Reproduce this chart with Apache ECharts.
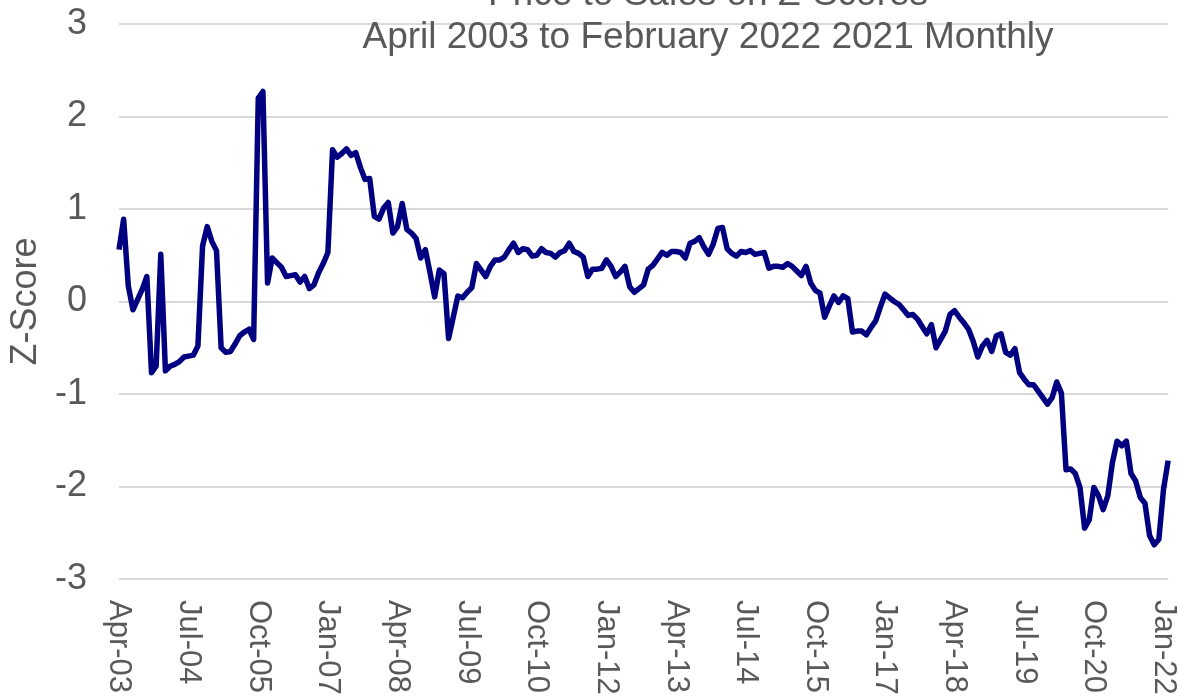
<!DOCTYPE html>
<html>
<head>
<meta charset="utf-8">
<script src="https://cdn.jsdelivr.net/npm/echarts@6/dist/echarts.min.js"></script>
<style>html,body{margin:0;padding:0;background:#fff;}#c{width:1179px;height:698px;}</style>
</head>
<body>
<div id="c"></div>
<script>
const titleText = "Price to Sales on Z-Scores";
const subtitleText = "April 2003 to February 2022 2021 Monthly";
const yAxisName = "Z-Score";
const monthNames = ["Jan","Feb","Mar","Apr","May","Jun","Jul","Aug","Sep","Oct","Nov","Dec"];
const startYear = 2003, startMonth = 3; // April 2003
const zScores = [
 0.56, 0.89, 0.17,-0.09, 0.02, 0.13, 0.27,-0.77,-0.70, 0.51,
-0.75,-0.70,-0.68,-0.65,-0.60,-0.59,-0.58,-0.48, 0.60, 0.81,
 0.65, 0.55,-0.50,-0.55,-0.54,-0.46,-0.37,-0.33,-0.30,-0.41,
 2.20, 2.27, 0.20, 0.47, 0.42, 0.37, 0.27, 0.28, 0.29, 0.21,
 0.27, 0.14, 0.18, 0.31, 0.41, 0.53, 1.64, 1.56, 1.60, 1.65,
 1.58, 1.61, 1.45, 1.32, 1.33, 0.92, 0.89, 1.01, 1.07, 0.74,
 0.81, 1.06, 0.78, 0.74, 0.68, 0.47, 0.56, 0.31, 0.05, 0.34,
 0.30,-0.40,-0.17, 0.06, 0.04, 0.10, 0.15, 0.41, 0.34, 0.27,
 0.38, 0.45, 0.45, 0.48, 0.56, 0.63, 0.53, 0.57, 0.56, 0.49,
 0.50, 0.57, 0.53, 0.52, 0.48, 0.53, 0.55, 0.63, 0.54, 0.52,
 0.48, 0.27, 0.35, 0.35, 0.36, 0.45, 0.38, 0.27, 0.32, 0.38,
 0.16, 0.10, 0.14, 0.18, 0.35, 0.39, 0.46, 0.53, 0.50, 0.54,
 0.54, 0.53, 0.47, 0.63, 0.65, 0.69, 0.59, 0.51, 0.62, 0.79,
 0.80, 0.57, 0.52, 0.49, 0.54, 0.53, 0.55, 0.51, 0.52, 0.53,
 0.36, 0.38, 0.38, 0.37, 0.41, 0.38, 0.33, 0.28, 0.38, 0.20,
 0.12, 0.09,-0.17,-0.05, 0.06,-0.01, 0.06, 0.03,-0.33,-0.32,
-0.32,-0.36,-0.28,-0.21,-0.06, 0.08, 0.04, 0.00,-0.03,-0.09,
-0.15,-0.14,-0.19,-0.27,-0.35,-0.25,-0.50,-0.41,-0.32,-0.14,
-0.10,-0.17,-0.23,-0.30,-0.43,-0.60,-0.48,-0.42,-0.54,-0.37,
-0.35,-0.55,-0.58,-0.51,-0.77,-0.84,-0.90,-0.90,-0.97,-1.04,
-1.11,-1.04,-0.87,-0.99,-1.82,-1.81,-1.86,-2.01,-2.45,-2.36,
-2.01,-2.10,-2.25,-2.10,-1.74,-1.51,-1.56,-1.51,-1.86,-1.94,
-2.12,-2.18,-2.53,-2.63,-2.57,-2.03,-1.72
];
const categories = zScores.map((v, i) => {
  const m = (startMonth + i) % 12;
  const y = startYear + Math.floor((startMonth + i) / 12);
  return monthNames[m] + "-" + String(y % 100).padStart(2, "0");
});
const yTicks = { min: -3, max: 3, interval: 1 };

const FONT = "Liberation Sans, Arial, sans-serif";
const GREY = "#595959";
const chart = echarts.init(document.getElementById("c"), null, { renderer: "canvas" });
chart.setOption({
  animation: false,
  backgroundColor: "#ffffff",
  title: [
    { text: titleText, left: 703, textAlign: "center", top: -29, textStyle: { fontFamily: FONT, fontSize: 37, fontWeight: "normal", color: GREY } },
    { text: subtitleText, left: 703, textAlign: "center", top: 14, textStyle: { fontFamily: FONT, fontSize: 37, fontWeight: "normal", color: GREY } }
  ],
  grid: { left: 117, right: 9, top: 24, bottom: 119, containLabel: false },
  xAxis: {
    type: "category",
    data: categories,
    boundaryGap: false,
    axisLine: { show: false },
    axisTick: { show: false },
    axisLabel: { interval: 14, rotate: -90, margin: 21, fontFamily: FONT, fontSize: 31, color: GREY }
  },
  yAxis: {
    type: "value",
    min: yTicks.min, max: yTicks.max, interval: yTicks.interval,
    name: yAxisName,
    nameLocation: "middle",
    nameGap: 75,
    nameTextStyle: { fontFamily: FONT, fontSize: 36, color: GREY },
    axisLine: { show: false },
    axisTick: { show: false },
    axisLabel: { margin: 32, fontFamily: FONT, fontSize: 36, color: GREY },
    splitLine: { lineStyle: { color: "#d9d9d9", width: 2 } }
  },
  series: [{
    type: "line",
    data: zScores,
    showSymbol: false,
    lineStyle: { color: "#000080", width: 5.5, join: "round" },
    itemStyle: { color: "#000080" }
  }]
});
</script>
</body>
</html>
